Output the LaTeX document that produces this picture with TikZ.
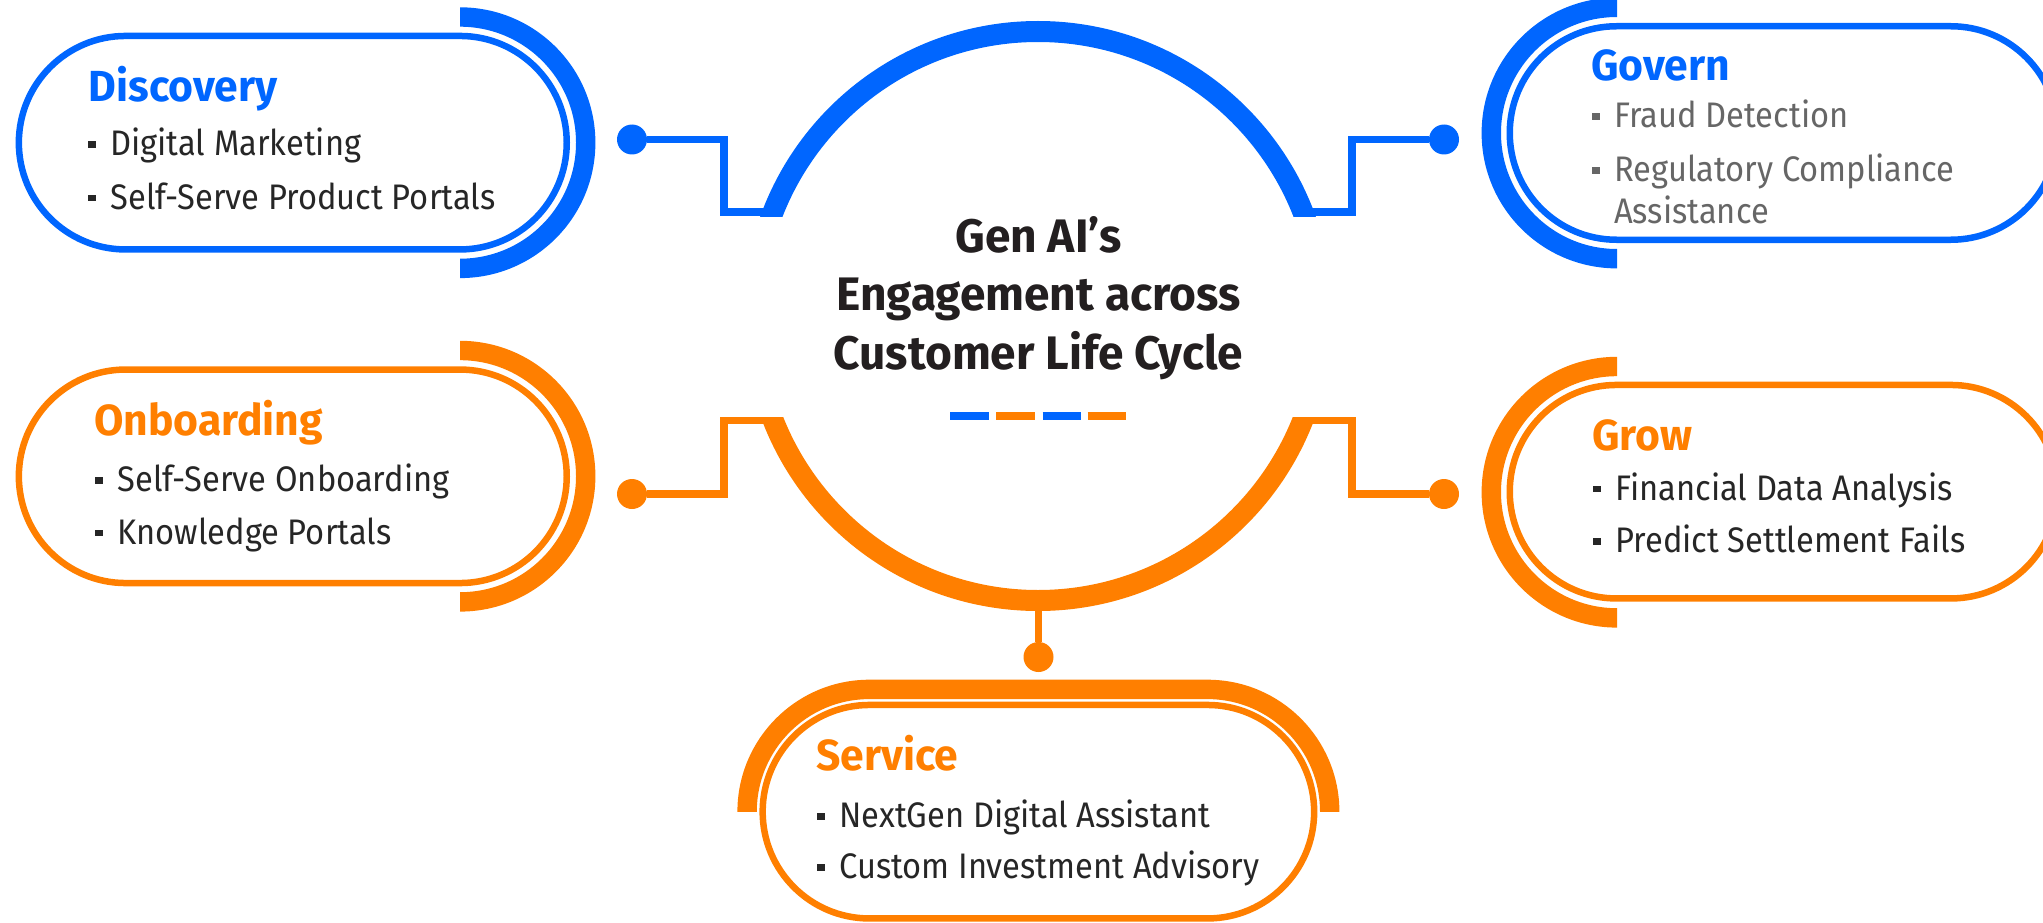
\documentclass[tikz,border=0pt]{standalone}
\usepackage{fontspec}
\setmainfont{Fira Sans}[FakeStretch=0.92]
\newfontfamily\headfont{Fira Sans}[FakeStretch=0.98]
\usetikzlibrary{shapes.misc}

\definecolor{cblue}{HTML}{0066FF}
\definecolor{corange}{HTML}{FF7F00}
\definecolor{ctext}{HTML}{262626}
\definecolor{cgray}{HTML}{666666}
\definecolor{ctitle}{HTML}{231F20}

\newcommand\sqbul{\raisebox{7.7pt}{\rule{7.5pt}{6.8pt}}\hspace{14.7pt}}

\tikzset{
  pill/.style={rounded rectangle, draw, line width=6.5pt, minimum height=213.5pt,
    inner sep=0pt, outer sep=0pt},
  thickarc/.style={line width=19.4pt},
  ringarc/.style={line width=21pt},
  conn/.style={line width=7.7pt},
  dot/.style={circle, fill, inner sep=0pt, outer sep=0pt, minimum size=30pt},
  heading/.style={anchor=base west, inner sep=0pt,
    font=\headfont\fontsize{43.5}{50}\selectfont\bfseries},
  item/.style={anchor=base west, inner sep=0pt,
    font=\fontsize{35.5}{42}\selectfont, text=ctext},
  centre/.style={anchor=base, inner sep=0pt,
    font=\headfont\fontsize{47}{58}\selectfont\bfseries, text=ctitle},
  dashseg/.style={line width=7.7pt}
}

\begin{document}
\begin{tikzpicture}[x=1pt,y=-1pt]
\useasboundingbox (0,0) rectangle (2043,923);
\clip (0,0) rectangle (2043,923);

% ---- connector end points (hidden under the ring) and dots
\coordinate (c1) at (772,212.2);
\coordinate (c2) at (1304,212.2);
\coordinate (c3) at (772,420.5);
\coordinate (c4) at (1304,420.5);
\coordinate (c5) at (1038.5,600);
\node[dot, fill=cblue]   (d1) at (632,139.5) {};
\node[dot, fill=cblue]   (d2) at (1444,139.5) {};
\node[dot, fill=corange] (d3) at (632,494) {};
\node[dot, fill=corange] (d4) at (1444,494) {};
\node[dot, fill=corange] (d5) at (1038.5,657) {};

% ---- connectors
\draw[conn, cblue]   (d1) -- ++(92,0) |- (c1);
\draw[conn, cblue]   (d2) -- ++(-92,0) |- (c2);
\draw[conn, corange] (d3) -- ++(92,0) |- (c3);
\draw[conn, corange] (d4) -- ++(-92,0) |- (c4);
\draw[conn, corange] (c5) -- (d5);

% ---- central ring: blue upper part, orange lower part
\begin{scope}
  \clip (600,0) rectangle (1480,216);
  \draw[ringarc, cblue] (1038,316) circle[radius=284.5pt];
\end{scope}
\begin{scope}
  \clip (600,417) rectangle (1480,640);
  \draw[ringarc, corange] (1038,316) circle[radius=284.5pt];
\end{scope}

% ---- pills
\node[pill, draw=cblue,   minimum width=547.9pt] (discovery)  at (292.8,142.7) {};
\node[pill, draw=cblue,   minimum width=547.9pt] (govern)     at (1783.7,133) {};
\node[pill, draw=corange, minimum width=547.9pt] (onboarding) at (292.8,476.3) {};
\node[pill, draw=corange, minimum width=547.9pt] (grow)       at (1783.7,491.7) {};
\node[pill, draw=corange, minimum width=551.5pt] (service)    at (1038.4,811.7) {};

% ---- thick half arcs beside the pills
\begin{scope}
  \clip (460,0) rectangle (640,300);
  \draw[thickarc, cblue] (460,142.7) circle[radius=125.7pt];
\end{scope}
\begin{scope}
  \clip (460,320) rectangle (640,640);
  \draw[thickarc, corange] (460,476.2) circle[radius=125.7pt];
\end{scope}
\begin{scope}
  \clip (1440,0) rectangle (1617,300);
  \draw[thickarc, cblue] (1617,133) circle[radius=125.7pt];
\end{scope}
\begin{scope}
  \clip (1440,340) rectangle (1617,640);
  \draw[thickarc, corange] (1617,492.2) circle[radius=125.7pt];
\end{scope}
\begin{scope}
  \clip (700,660) rectangle (1380,811.7);
  \node[rounded rectangle, draw=corange, thickarc, inner sep=0pt, outer sep=0pt,
        minimum height=244.6pt, minimum width=582.6pt] (servicearc) at (1038.4,811.7) {};
\end{scope}

% ---- centre title and dashes
\node[centre] (t1) at (1038.5,252.6) {Gen AI’s};
\node[centre] (t2) at (1038.5,310.8) {Engagement across};
\node[centre] (t3) at (1038.5,369.3) {Customer Life Cycle};
\draw[dashseg, cblue]   (950.4,416)  -- ++(38.2,0);
\draw[dashseg, corange] (996.4,416)  -- ++(38.2,0);
\draw[dashseg, cblue]   (1042.5,416) -- ++(38.2,0);
\draw[dashseg, corange] (1087.6,416) -- ++(38.2,0);

% ---- Discovery
\node[heading, text=cblue] (h1) at (88.5,101.7) {Discovery};
\node[item] (i11) at (88,156) {\sqbul Digital Marketing};
\node[item] (i12) at (88,209) {\sqbul Self-Serve Product Portals};

% ---- Govern
\node[heading, text=cblue] (h2) at (1591,81) {Govern};
\node[item, text=cgray] (i21) at (1592,128) {\sqbul Fraud Detection};
\node[item, text=cgray] (i22) at (1592,182) {\sqbul Regulatory Compliance};
\node[item, text=cgray] (i23) at (1614,223) {Assistance};

% ---- Onboarding
\node[heading, text=corange] (h3) at (94,435) {Onboarding};
\node[item] (i31) at (95,491.7) {\sqbul Self-Serve Onboarding};
\node[item] (i32) at (95,544) {\sqbul Knowledge Portals};

% ---- Grow
\node[heading, text=corange] (h4) at (1592,450.7) {Grow};
\node[item] (i41) at (1593,500) {\sqbul Financial Data Analysis};
\node[item] (i42) at (1593,552.7) {\sqbul Predict Settlement Fails};

% ---- Service
\node[heading, text=corange] (h5) at (816,770) {Service};
\node[item] (i51) at (817,827.3) {\sqbul NextGen Digital Assistant};
\node[item] (i52) at (817,878.3) {\sqbul Custom Investment Advisory};
\end{tikzpicture}
\end{document}
